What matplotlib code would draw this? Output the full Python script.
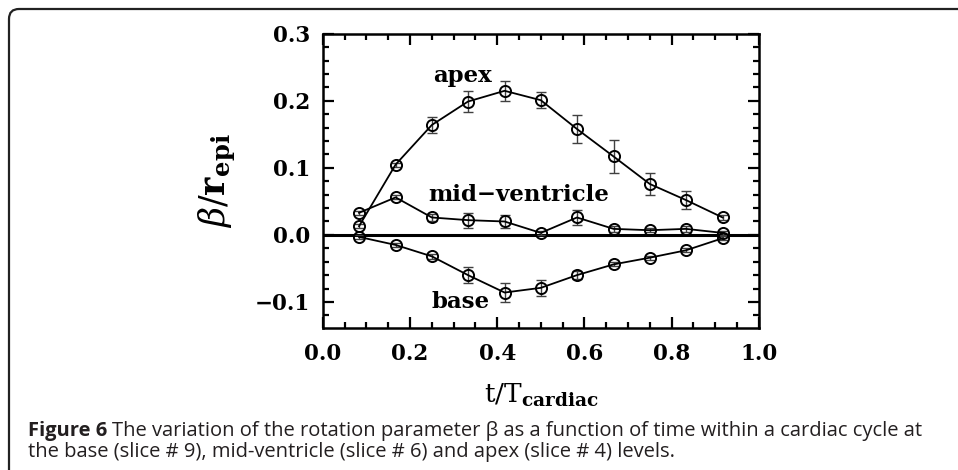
import matplotlib
matplotlib.use('Agg')
import matplotlib.pyplot as plt
from matplotlib.patches import FancyBboxPatch
from matplotlib.ticker import MultipleLocator

# time points (fraction of cardiac cycle)
t = [0.083, 0.167, 0.25, 0.333, 0.417, 0.5, 0.583, 0.667, 0.75, 0.833, 0.917]

apex = [0.013, 0.105, 0.164, 0.199, 0.215, 0.201, 0.158, 0.117, 0.076, 0.052, 0.026]
apex_err = [0.003, 0.003, 0.012, 0.015, 0.015, 0.012, 0.021, 0.024, 0.016, 0.014, 0.004]

mid = [0.033, 0.056, 0.026, 0.022, 0.020, 0.003, 0.026, 0.009, 0.007, 0.009, 0.003]
mid_err = [0.003, 0.003, 0.005, 0.011, 0.010, 0.003, 0.011, 0.004, 0.003, 0.005, 0.003]

base = [-0.003, -0.015, -0.032, -0.060, -0.086, -0.079, -0.060, -0.044, -0.034, -0.023, -0.005]
base_err = [0.003, 0.003, 0.004, 0.012, 0.014, 0.012, 0.006, 0.003, 0.003, 0.003, 0.003]

xticks = [0, 0.2, 0.4, 0.6, 0.8, 1.0]
xtick_labels = ['0.0', '0.2', '0.4', '0.6', '0.8', '1.0']
yticks = [-0.1, 0.0, 0.1, 0.2, 0.3]
ytick_labels = ['\u22120.1', '0.0', '0.1', '0.2', '0.3']

plt.rcParams['mathtext.fontset'] = 'dejavuserif'

fig = plt.figure(figsize=(9.58, 4.70), dpi=100)
ax = fig.add_axes([0.337, 0.302, 0.455, 0.626])

for y, e in [(apex, apex_err), (mid, mid_err), (base, base_err)]:
    ax.errorbar(t, y, yerr=e, fmt='none', ecolor='0.25', elinewidth=1.0,
                capsize=3.5, capthick=1.0, zorder=2)
    ax.plot(t, y, color='black', lw=1.3, marker='o', ms=8,
            mfc='none', mec='black', mew=1.4, zorder=3)

ax.axhline(0, color='black', lw=2.2, zorder=1)

lab = dict(fontsize=16.5, fontweight='bold', family='DejaVu Serif', ha='center', va='center')
ax.text(0.32, 0.237, 'apex', **lab)
ax.text(0.45, 0.06, 'mid\u2212ventricle', **lab)
ax.text(0.315, -0.10, 'base', **lab)

ax.set_xlim(0, 1)
ax.set_ylim(-0.139, 0.3)
ax.xaxis.set_minor_locator(MultipleLocator(0.05))
ax.yaxis.set_minor_locator(MultipleLocator(0.02))
ax.tick_params(which='both', direction='in', top=True, right=True, width=1.6)
ax.tick_params(which='major', length=8)
ax.tick_params(axis='x', which='major', pad=11)
ax.tick_params(axis='y', which='major', pad=9)
ax.tick_params(which='minor', length=4)
for s in ax.spines.values():
    s.set_linewidth(1.8)

ax.set_xticks(xticks)
ax.set_xticklabels(xtick_labels)
ax.set_yticks(yticks)
ax.set_yticklabels(ytick_labels)
for lbl in ax.get_xticklabels() + ax.get_yticklabels():
    lbl.set_family('DejaVu Serif')
    lbl.set_fontsize(15.5)
    lbl.set_fontweight('bold')

ax.set_xlabel(r'$\mathrm{t/T}_{\mathbf{cardiac}}$', fontsize=19, labelpad=12)
ax.set_ylabel(r'$\beta/\mathbf{r}_{\mathbf{epi}}$', fontsize=25, labelpad=12)

# rounded frame (top and left edges visible)
frame = FancyBboxPatch((9, -40), 1000, 501, boxstyle='round,pad=0,rounding_size=10',
                       transform=None, fill=False, ec='#222222', lw=1.6)
fig.patches.append(frame)

cap_font = ['Open Sans', 'DejaVu Sans']
cap_size = 14.5
fig_w, fig_h = 958, 470
b = fig.text(28 / fig_w, 1 - 431 / fig_h, 'Figure 6 ', family=cap_font, fontweight='bold',
             fontsize=cap_size, va='center', ha='left', color='#231f20')
fig.canvas.draw()
bb = b.get_window_extent()
fig.text(bb.x1 / fig_w, 1 - 431 / fig_h,
         'The variation of the rotation parameter \u03b2 as a function of time within a cardiac cycle at',
         family=cap_font, fontsize=cap_size, va='center', ha='left', color='#231f20')
fig.text(28 / fig_w, 1 - 452 / fig_h,
         'the base (slice # 9), mid-ventricle (slice # 6) and apex (slice # 4) levels.',
         family=cap_font, fontsize=cap_size, va='center', ha='left', color='#231f20')

fig.savefig('out.png', dpi=100)
